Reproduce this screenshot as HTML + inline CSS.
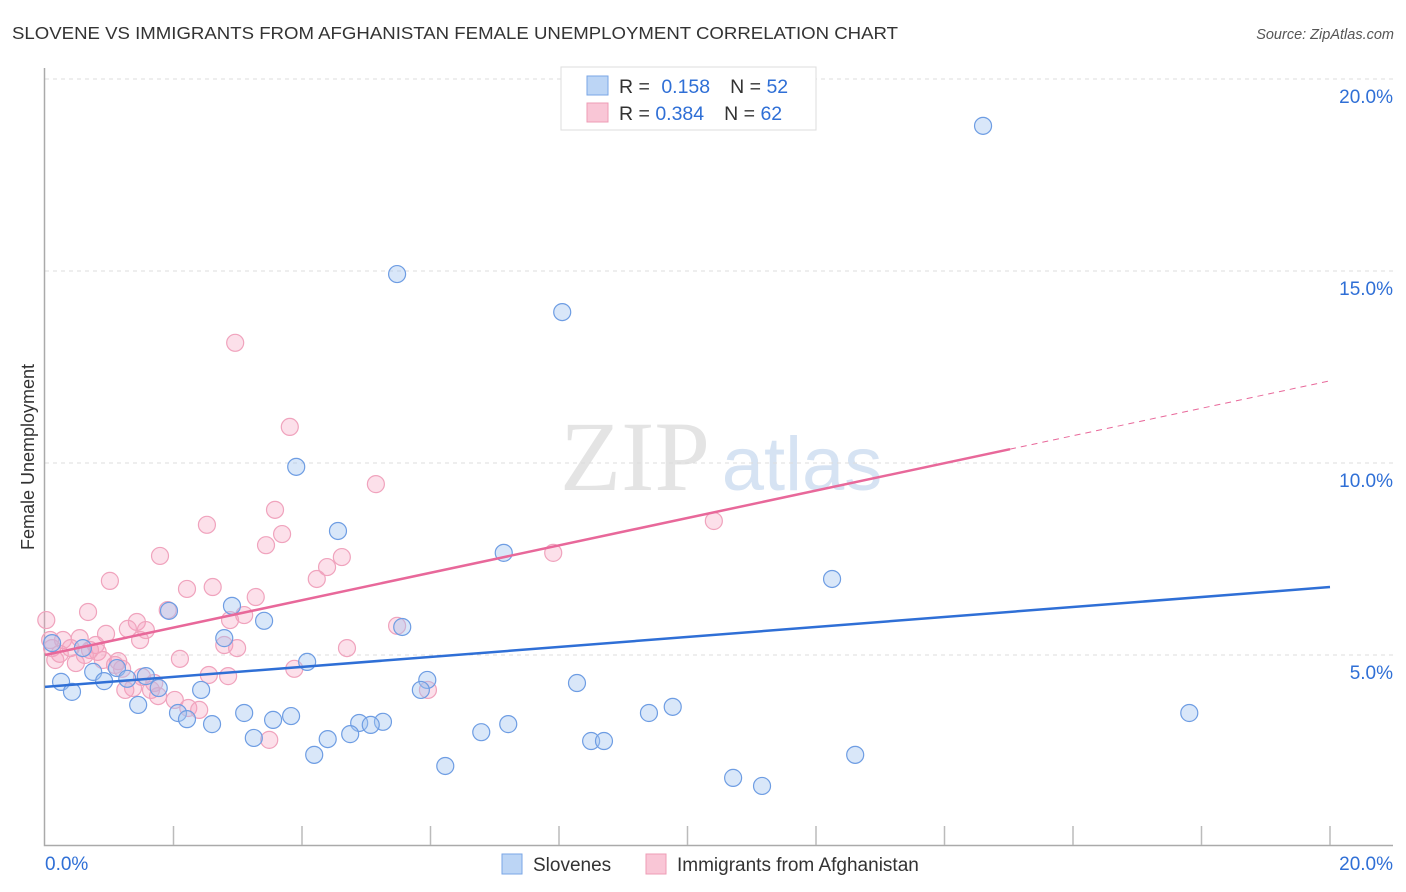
<!DOCTYPE html>
<html><head><meta charset="utf-8"><style>
body{margin:0;background:#fff;font-family:"Liberation Sans",sans-serif;}
svg{display:block}
</style></head><body>
<svg id="chart" width="1406" height="892" xmlns="http://www.w3.org/2000/svg">
<text x="12" y="39" font-size="17.5" fill="#333" textLength="886" lengthAdjust="spacingAndGlyphs">SLOVENE VS IMMIGRANTS FROM AFGHANISTAN FEMALE UNEMPLOYMENT CORRELATION CHART</text>
<text x="1394" y="39" font-size="14.5" fill="#555" font-style="italic" text-anchor="end">Source: ZipAtlas.com</text>
<g>
<text x="635" y="490" font-size="100" font-family="Liberation Serif,serif" fill="#e4e4e4" text-anchor="middle">ZIP</text>
<text x="802" y="490" font-size="76" fill="#d6e3f3" text-anchor="middle">atlas</text>
</g>
<g id="grid"></g>
<g id="axes"></g>
<g id="marks"></g>
<text transform="translate(34,457) rotate(-90)" font-size="18" fill="#333" text-anchor="middle">Female Unemployment</text>
<g>
<rect x="561" y="67" width="255" height="63" fill="#fff" stroke="#ddd"/>
<rect x="587" y="76" width="21" height="19" fill="#bcd5f5" stroke="#7aa6e6"/>
<rect x="587" y="103" width="21" height="19" fill="#f9c6d6" stroke="#ee9cb6"/>
<text x="619" y="93" font-size="19.5" fill="#333">R = <tspan fill="#2f6fd6" dx="6">0.158</tspan><tspan dx="20" fill="#333">N = </tspan><tspan fill="#2f6fd6">52</tspan></text>
<text x="619" y="120" font-size="19.5" fill="#333">R = <tspan fill="#2f6fd6">0.384</tspan><tspan dx="20" fill="#333">N = </tspan><tspan fill="#2f6fd6">62</tspan></text>
</g>
<g>
<rect x="502" y="854" width="20" height="20" fill="#bcd5f5" stroke="#7aa6e6"/>
<text x="533" y="871" font-size="19" fill="#333">Slovenes</text>
<rect x="646" y="854" width="20" height="20" fill="#f9c6d6" stroke="#ee9cb6"/>
<text x="677" y="871" font-size="19" fill="#333">Immigrants from Afghanistan</text>
</g>
</svg>
<script>
const yTicks=[5,10,15,20];
const yTickLabels=["5.0%","10.0%","15.0%","20.0%"];
const blueX=[14.60,5.48,8.05,3.91,4.56,7.14,12.25,2.91,1.93,3.41,5.56,2.79,0.11,0.59,4.08,1.12,0.75,1.57,0.25,0.92,1.28,5.95,8.28,1.77,0.42,2.43,5.85,1.45,9.77,2.07,3.10,9.40,17.81,3.83,2.21,3.55,2.60,4.89,5.26,5.07,7.21,6.79,4.75,4.40,3.25,8.50,8.70,4.19,12.61,6.23,10.71,11.16];
const blueY=[18.78,14.92,13.93,9.90,8.23,7.66,6.98,6.28,6.15,5.89,5.73,5.44,5.31,5.18,4.82,4.66,4.56,4.45,4.30,4.32,4.38,4.35,4.27,4.14,4.04,4.09,4.09,3.70,3.65,3.49,3.49,3.49,3.49,3.41,3.33,3.31,3.20,3.23,3.26,3.18,3.20,2.99,2.94,2.81,2.84,2.76,2.76,2.40,2.40,2.11,1.80,1.59];
const pinkX=[2.96,3.81,5.15,10.41,2.52,3.58,3.69,3.44,1.79,4.62,7.91,4.39,1.01,4.23,2.21,2.61,3.28,0.67,1.91,3.10,0.02,1.43,1.29,1.57,5.48,0.95,0.54,0.28,0.79,0.11,0.40,2.79,2.99,4.70,0.82,2.10,1.14,0.48,0.90,0.16,1.20,2.55,2.85,1.51,3.88,1.70,1.37,1.65,1.76,2.23,2.40,3.49,5.96,0.23,0.70,1.09,1.48,0.08,0.62,1.25,2.02,2.88];
const pinkY=[13.13,10.94,9.45,8.49,8.39,8.78,8.15,7.86,7.58,7.55,7.66,7.29,6.93,6.98,6.72,6.77,6.51,6.12,6.17,6.04,5.91,5.86,5.68,5.65,5.76,5.55,5.44,5.39,5.26,5.18,5.18,5.26,5.18,5.18,5.08,4.90,4.84,4.79,4.87,4.87,4.64,4.48,4.45,4.43,4.64,4.27,4.14,4.09,3.93,3.62,3.57,2.79,4.09,5.03,5.13,4.74,5.39,5.39,5.00,4.09,3.83,5.91];
const blueTrend=[0,4.17,20,6.77];
const pinkTrend=[0,5.0,15.02,10.36,20,12.14];
const NS="http://www.w3.org/2000/svg";
const X=v=>45+v*64.25, Y=v=>847-v*38.4;
function mk(t,a,p){const e=document.createElementNS(NS,t);for(const k in a)e.setAttribute(k,a[k]);document.getElementById(p).appendChild(e);return e;}
yTicks.forEach((t,i)=>{
 const g=mk('line',{x1:45,x2:1393,y1:Y(t),y2:Y(t),stroke:'#ddd','stroke-dasharray':'4,4'},'grid');
 
 
 const l=mk('text',{x:1393,y:Y(t)+24,'font-size':19,fill:'#2f6fd6','text-anchor':'end'},'axes');
 l.textContent=yTickLabels[i];
 
 
});
const ax=mk('path',{d:'M44.5 68V845.5H1393',fill:'none',stroke:'#aaa','stroke-width':1.5},'axes');


for(let i=1;i<=10;i++){const t=mk('line',{x1:X(i*2),x2:X(i*2),y1:826,y2:845,stroke:'#bbb','stroke-width':1.5},'axes');
 
 }
[[0,"0.0%","start",45],[20,"20.0%","end",1393]].forEach(d=>{const t=mk('text',{x:d[3],y:870,'font-size':19,fill:'#2f6fd6','text-anchor':d[2]},'axes');t.textContent=d[1];
 
 });
pinkX.forEach((x,i)=>{const c=mk('circle',{cx:X(x),cy:Y(pinkY[i]),r:8.5,fill:'rgba(245,160,190,0.32)',stroke:'#f0a3bd','stroke-width':1.2},'marks');
 
 });
blueX.forEach((x,i)=>{const c=mk('circle',{cx:X(x),cy:Y(blueY[i]),r:8.5,fill:'rgba(160,195,240,0.4)',stroke:'#6e9de3','stroke-width':1.2},'marks');
 
 });
const bl=mk('line',{x1:X(blueTrend[0]),y1:Y(blueTrend[1]),x2:X(blueTrend[2]),y2:Y(blueTrend[3]),stroke:'#2f6fd6','stroke-width':2.5},'marks');


const pl=mk('line',{x1:X(pinkTrend[0]),y1:Y(pinkTrend[1]),x2:X(pinkTrend[2]),y2:Y(pinkTrend[3]),stroke:'#e8689a','stroke-width':2.5},'marks');


const pd=mk('line',{x1:X(pinkTrend[2]),y1:Y(pinkTrend[3]),x2:X(pinkTrend[4]),y2:Y(pinkTrend[5]),stroke:'#e8689a','stroke-width':1,'stroke-dasharray':'6,5'},'marks');


</script>
</body></html>
